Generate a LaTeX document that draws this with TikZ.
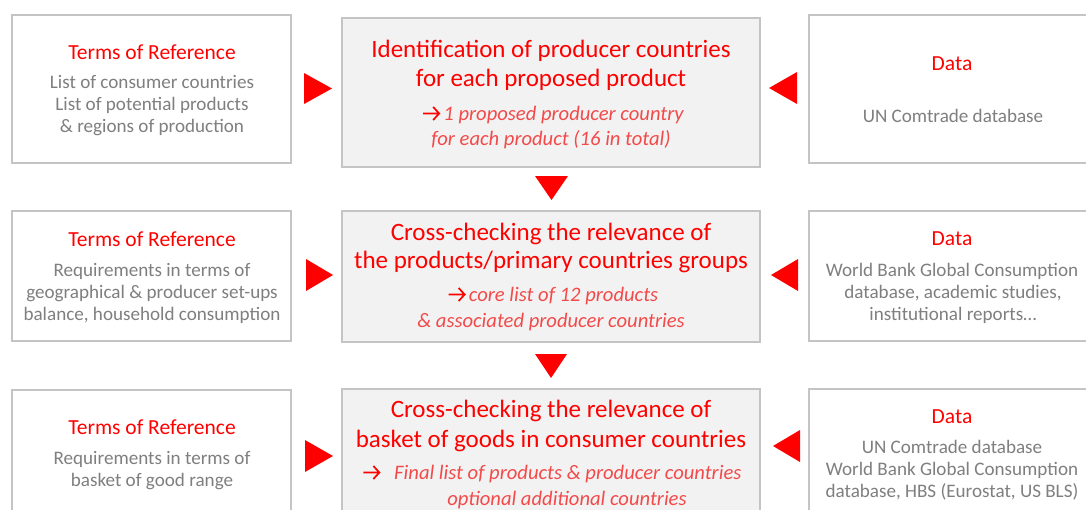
\documentclass[tikz,border=0pt]{standalone}
\usepackage{fontspec}
\setmainfont{Carlito}
\usetikzlibrary{calc}
\definecolor{boxline}{HTML}{C4C4C4}
\definecolor{boxfill}{HTML}{F2F2F2}
\definecolor{bodygray}{HTML}{7F7F7F}
\definecolor{keyred}{HTML}{FF0000}
\definecolor{notered}{HTML}{F24A4A}
\tikzset{
  sidebox/.style={draw=boxline, line width=1.3pt, fill=white, rectangle, inner sep=0pt},
  midbox/.style={sidebox, fill=boxfill},
  head/.style={anchor=base, inner sep=0pt, text=keyred, font=\fontsize{21.5}{24}\selectfont},
  body/.style={anchor=base, inner sep=0pt, text=bodygray, font=\fontsize{19.1}{22}\selectfont},
  mtitle/.style={anchor=base, inner sep=0pt, text=keyred, font=\fontsize{25}{29}\selectfont},
  note/.style={anchor=base, inner sep=0pt, text=notered, font=\fontsize{20.6}{25}\selectfont\itshape},
  tri/.style={fill=keyred}
}
% small open-headed arrow used in front of the outcome notes
\newcommand{\outarrow}{\tikz[baseline=0pt, x=1pt, y=1pt]
  \draw[keyred, line width=1.7pt, line join=miter] (0,6.5) -- (16,6.5) (10,13) -- (16,6.5) -- (10,0);}
\begin{document}
\begin{tikzpicture}[x=1pt,y=-1pt]
\useasboundingbox (0,0) rectangle (1086,509);
\clip (0,0) rectangle (1086,509);

% ---- boxes ----
\node[sidebox, minimum width=279pt, minimum height=148pt] (l1) at (151.5,89) {};
\node[midbox,  minimum width=418pt, minimum height=149pt] (m1) at (551,92.5) {};
\node[sidebox, minimum width=287pt, minimum height=148pt] (r1) at (952.5,89) {};

\node[sidebox, minimum width=279pt, minimum height=130pt] (l2) at (151.5,276) {};
\node[midbox,  minimum width=418pt, minimum height=131pt] (m2) at (551,276.5) {};
\node[sidebox, minimum width=287pt, minimum height=130pt] (r2) at (952.5,276) {};

\node[sidebox, minimum width=279pt, minimum height=150pt] (l3) at (151.5,465) {};
\node[midbox,  minimum width=418pt, minimum height=150pt] (m3) at (551,464) {};
\node[sidebox, minimum width=287pt, minimum height=150pt] (r3) at (952.5,464) {};

% ---- row 1 ----
\node[head] (l1h) at (152,59) {Terms of Reference};
\node[body] (l1a) at (152,88) {List of consumer countries};
\node[body] (l1b) at (152,110) {List of potential products};
\node[body] (l1c) at (152,132) {\& regions of production};

\node[mtitle] (m1a) at (551,57) {Identification of producer countries};
\node[mtitle] (m1b) at (551,86) {for each proposed product};
\node[note] (m1c) at (553,120) {\outarrow\,1 proposed producer country};
\node[note] (m1d) at (551,145) {for each product (16 in total)};

\node[head] (r1h) at (952,70) {Data};
\node[body] (r1a) at (953,122) {UN Comtrade database};

% ---- row 2 ----
\node[head] (l2h) at (152,246) {Terms of Reference};
\node[body] (l2a) at (152,276) {Requirements in terms of};
\node[body] (l2b) at (152,298) {geographical \& producer set-ups};
\node[body] (l2c) at (152,320) {balance, household consumption};

\node[mtitle] (m2a) at (551,240) {Cross-checking the relevance of};
\node[mtitle] (m2b) at (551,268) {the products/primary countries groups};
\node[note] (m2c) at (553,301) {\outarrow\,core list of 12 products};
\node[note] (m2d) at (551,327) {\& associated producer countries};

\node[head] (r2h) at (952,245) {Data};
\node[body] (r2a) at (952,276) {World Bank Global Consumption};
\node[body] (r2b) at (953,298) {database, academic studies,};
\node[body] (r2c) at (953,320) {institutional reports…};

% ---- row 3 ----
\node[head] (l3h) at (152,434) {Terms of Reference};
\node[body] (l3a) at (152,464) {Requirements in terms of};
\node[body] (l3b) at (152,486) {basket of good range};

\node[mtitle] (m3a) at (551,417) {Cross-checking the relevance of};
\node[mtitle] (m3b) at (551,447) {basket of goods in consumer countries};
\node[note] (m3c) at (552,479) {\outarrow\hspace{14pt}Final list of products \& producer countries};
\node[note] (m3d) at (567,505) {optional additional countries};

\node[head] (r3h) at (952,423) {Data};
\node[body] (r3a) at (952,453) {UN Comtrade database};
\node[body] (r3b) at (952,475) {World Bank Global Consumption};
\node[body] (r3c) at (952,497) {database, HBS (Eurostat, US BLS)};

% ---- flow arrows ----
% inputs from the left
\fill[tri] (304,73) -- (332,88.5) -- (304,104) -- cycle;
\fill[tri] (306,259) -- (333,275) -- (306,291) -- cycle;
\fill[tri] (305,440) -- (333,456) -- (305,472) -- cycle;
% inputs from the right
\fill[tri] (797,72) -- (769,88) -- (797,104) -- cycle;
\fill[tri] (798,259) -- (771,275) -- (798,291) -- cycle;
\fill[tri] (800,430) -- (773,446) -- (800,462) -- cycle;
% steps downward
\fill[tri] (535,176) -- (568,176) -- (551.5,200) -- cycle;
\fill[tri] (535,354) -- (567,354) -- (551,378) -- cycle;
\end{tikzpicture}
\end{document}
